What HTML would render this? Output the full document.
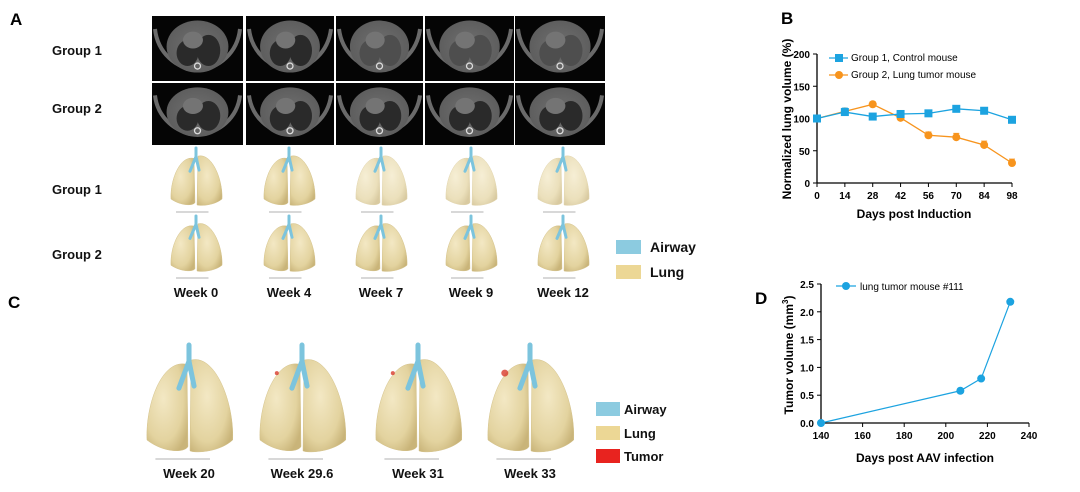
<!DOCTYPE html>
<html><head><meta charset="utf-8"><style>
body{margin:0;background:#fff;}
svg{display:block;font-family:"Liberation Sans",sans-serif;}
.lbl{font-weight:bold;font-size:13px;fill:#111;}
.pl{font-weight:bold;font-size:17px;fill:#000;}
</style></head><body>
<svg id="fig" width="1080" height="492" viewBox="0 0 1080 492">
<defs>
<radialGradient id="lg" cx="40%" cy="40%" r="70%"><stop offset="0" stop-color="#f3e8c4"/><stop offset="0.7" stop-color="#e3d39f"/><stop offset="1" stop-color="#c9b479"/></radialGradient>
<radialGradient id="ctb" cx="50%" cy="50%" r="55%"><stop offset="0" stop-color="#707070"/><stop offset="1" stop-color="#5c5c5c"/></radialGradient>
</defs>
<text class="pl" x="10" y="25">A</text>
<text class="pl" x="781" y="24">B</text>
<text class="pl" x="8" y="308">C</text>
<text class="pl" x="755" y="304">D</text>
<text class="lbl" x="52" y="55">Group 1</text>
<text class="lbl" x="52" y="113">Group 2</text>
<text class="lbl" x="52" y="194">Group 1</text>
<text class="lbl" x="52" y="259">Group 2</text>
<g id="ct"></g>
<g id="lungs"></g>
<g>
<rect x="616" y="240" width="25" height="14" fill="#8ccbe0"/><text class="lbl" x="650" y="252" style="font-size:14px">Airway</text>
<rect x="616" y="265" width="25" height="14" fill="#ecd795"/><text class="lbl" x="650" y="277" style="font-size:14px">Lung</text>
</g>
<g>
<rect x="596" y="402" width="24" height="14" fill="#8ccbe0"/><text class="lbl" x="624" y="414">Airway</text>
<rect x="596" y="426" width="24" height="14" fill="#ecd795"/><text class="lbl" x="624" y="438">Lung</text>
<rect x="596" y="449" width="24" height="14" fill="#e8231f"/><text class="lbl" x="624" y="461">Tumor</text>
</g>
<g id="chartB"></g>
<g id="chartD"></g>
</svg>
<script>
const daysB=[0,14,28,42,56,70,84,98];
const group1=[100,110,103,107,108,115,112,98];
const group2=[100,111,122,101,74,71,59,31];
const group1Err=[0,6,3,2,2,2,2,2];
const group2Err=[0,2,4,3,5,6,6,6];
const yTicksB=[0,50,100,150,200];
const daysD=[140,207,217,231];
const tumorVol=[0,0.58,0.80,2.18];
const xTicksD=[140,160,180,200,220,240];
const yTicksD=[0,0.5,1.0,1.5,2.0,2.5];
const weeksA=["Week 0","Week 4","Week 7","Week 9","Week  12"];
const weeksC=["Week 20","Week 29.6","Week 31","Week 33"];
const NS="http://www.w3.org/2000/svg";
function mk(p,t,a){const e=document.createElementNS(NS,t);for(const k in a)e.setAttribute(k,a[k]);p.appendChild(e);return e;}
const ct=document.getElementById('ct');
const ctX=[152,246,336,425,515],ctW=[91,88,87,89,90];
[[16,65],[83,62]].forEach((r,ri)=>{ctX.forEach((x,i)=>{
 const g=mk(ct,'g',{});
 
 
 const w=ctW[i],h=r[1],cx=x+w/2,cy=r[0]+h*0.47;
 mk(g,'rect',{x:x,y:r[0],width:w,height:h,fill:'#050505'});
 mk(g,'path',{d:`M${x+3} ${r[0]+h*0.2} A${w*0.47} ${h*0.7} 0 0 0 ${x+w-3} ${r[0]+h*0.2}`,fill:'none',stroke:'#6a6a6a','stroke-width':4});
 mk(g,'ellipse',{cx:cx,cy:cy,rx:w*0.34,ry:h*0.4,fill:'url(#ctb)'});
 const dk=(ri==0&&i>=2)?'#4e4e4e':'#2a2a2a';
 mk(g,'ellipse',{cx:cx-w*0.11,cy:cy+h*0.1,rx:w*0.12,ry:h*0.2,fill:dk});
 mk(g,'ellipse',{cx:cx+w*0.12,cy:cy+h*0.06,rx:w*0.13,ry:h*0.24,fill:dk});
 mk(g,'ellipse',{cx:cx-w*0.05,cy:cy-h*0.1,rx:w*0.11,ry:h*0.13,fill:'#747474'});
 mk(g,'circle',{cx:cx,cy:cy+h*0.3,r:3,fill:'none',stroke:'#ddd','stroke-width':1.3});
});});
const L=document.getElementById('lungs');
function lung(cx,top,w,h,tumor,sparse){
 const g=mk(L,'g',{});
 
 
 const lt=top+h*0.12,b=top+h;
 mk(g,'path',{d:`M${cx-2} ${lt+h*0.06} C${cx-w*0.32} ${lt} ${cx-w*0.52} ${b-h*0.45} ${cx-w*0.5} ${b-h*0.12} C${cx-w*0.3} ${b} ${cx-w*0.05} ${b} ${cx-1} ${b-h*0.06} Z`,fill:'url(#lg)',stroke:'#d4c28a','stroke-width':0.5,opacity:sparse?0.7:1});
 mk(g,'path',{d:`M${cx+2} ${lt+h*0.02} C${cx+w*0.32} ${lt-h*0.04} ${cx+w*0.54} ${b-h*0.45} ${cx+w*0.52} ${b-h*0.12} C${cx+w*0.35} ${b} ${cx+w*0.05} ${b} ${cx+1} ${b-h*0.02} Z`,fill:'url(#lg)',stroke:'#d4c28a','stroke-width':0.5,opacity:sparse?0.7:1});
 mk(g,'path',{d:`M${cx} ${top} L${cx} ${top+h*0.15} L${cx-w*0.12} ${top+h*0.4} M${cx} ${top+h*0.15} L${cx+w*0.06} ${top+h*0.38}`,fill:'none',stroke:'#7cc4dd','stroke-width':Math.max(2,w*0.06),'stroke-linecap':'round'});
 if(tumor)mk(g,'circle',{cx:cx-w*0.3,cy:lt+h*0.14,r:tumor,fill:'#d83a2a',opacity:0.8});
 mk(g,'line',{x1:cx-w*0.4,y1:b+6,x2:cx+w*0.25,y2:b+6,stroke:'#999','stroke-width':0.8});
}
const axA=[196,289,381,471,563];
axA.forEach((cx,i)=>{lung(cx,148,50,58,0,i>=2);lung(cx,216,50,56,0,false);
 const t=mk(document.getElementById('fig'),'text',{x:cx,y:297,'text-anchor':'middle',class:'lbl','font-size':12});
 t.textContent=weeksA[i];
 
 
});
const axC=[189,302,418,530];
axC.forEach((cx,i)=>{lung(cx,345,84,108,[0,2,2,3.5][i],false);
 const t=mk(document.getElementById('fig'),'text',{x:cx,y:478,'text-anchor':'middle',class:'lbl'});
 t.textContent=weeksC[i];
 
 
});
(function(){
 const G=document.getElementById('chartB');
 const x=d=>817+(d-0)/98*195, y=v=>183-v/200*129;
 mk(G,'line',{x1:817,y1:y(200),x2:817,y2:183,stroke:'#000','stroke-width':1.3});
 mk(G,'line',{x1:817,y1:183,x2:1012,y2:183,stroke:'#000','stroke-width':1.3});
 yTicksB.forEach(v=>{mk(G,'line',{x1:813,y1:y(v),x2:817,y2:y(v),stroke:'#000'});
  const t=mk(G,'text',{x:810,y:y(v)+4,'text-anchor':'end','font-size':10,'font-weight':'bold'});t.textContent=v;});
 daysB.forEach(d=>{mk(G,'line',{x1:x(d),y1:183,x2:x(d),y2:187,stroke:'#000'});
  const t=mk(G,'text',{x:x(d),y:199,'text-anchor':'middle','font-size':10,'font-weight':'bold'});t.textContent=d;});
 let t=mk(G,'text',{x:914,y:218,'text-anchor':'middle','font-size':12,'font-weight':'bold'});t.textContent='Days post Induction';
 t=mk(G,'text',{x:0,y:0,'text-anchor':'middle','font-size':12,'font-weight':'bold',transform:'translate(791,119) rotate(-90)'});t.textContent='Normalized lung volume (%)';
 function series(vals,err,col,sq,name){
  const p=mk(G,'polyline',{points:vals.map((v,i)=>x(daysB[i])+','+y(v)).join(' '),fill:'none',stroke:col,'stroke-width':1.3});
  
  
  vals.forEach((v,i)=>{
   if(err[i])mk(G,'path',{d:`M${x(daysB[i])} ${y(v)} V${y(v+err[i])} M${x(daysB[i])-3} ${y(v+err[i])} H${x(daysB[i])+3}`,stroke:col,'stroke-width':1});
   const m=sq?mk(G,'rect',{x:x(daysB[i])-4,y:y(v)-4,width:8,height:8,fill:col}):mk(G,'circle',{cx:x(daysB[i]),cy:y(v),r:4,fill:col});
   
   
  });
 }
 series(group2,group2Err,'#f7941d',false,'group2');
 series(group1,group1Err,'#1ca3e0',true,'group1');
 mk(G,'line',{x1:829,y1:58,x2:848,y2:58,stroke:'#1ca3e0','stroke-width':1.3});mk(G,'rect',{x:835,y:54,width:8,height:8,fill:'#1ca3e0'});
 t=mk(G,'text',{x:851,y:61,'font-size':10});t.textContent='Group 1, Control mouse';
 mk(G,'line',{x1:829,y1:75,x2:848,y2:75,stroke:'#f7941d','stroke-width':1.3});mk(G,'circle',{cx:839,cy:75,r:4,fill:'#f7941d'});
 t=mk(G,'text',{x:851,y:78,'font-size':10});t.textContent='Group 2, Lung tumor mouse';
})();
(function(){
 const G=document.getElementById('chartD');
 const x=d=>821+(d-140)/100*208, y=v=>423-v/2.5*139;
 mk(G,'line',{x1:821,y1:y(2.5),x2:821,y2:423,stroke:'#000','stroke-width':1.3});
 mk(G,'line',{x1:821,y1:423,x2:1029,y2:423,stroke:'#000','stroke-width':1.3});
 yTicksD.forEach(v=>{mk(G,'line',{x1:817,y1:y(v),x2:821,y2:y(v),stroke:'#000'});
  const t=mk(G,'text',{x:814,y:y(v)+4,'text-anchor':'end','font-size':10,'font-weight':'bold'});t.textContent=v.toFixed(1);});
 xTicksD.forEach(d=>{mk(G,'line',{x1:x(d),y1:423,x2:x(d),y2:427,stroke:'#000'});
  const t=mk(G,'text',{x:x(d),y:439,'text-anchor':'middle','font-size':10,'font-weight':'bold'});t.textContent=d;});
 let t=mk(G,'text',{x:925,y:462,'text-anchor':'middle','font-size':12,'font-weight':'bold'});t.textContent='Days post AAV infection';
 t=mk(G,'text',{x:0,y:0,'text-anchor':'middle','font-size':12,'font-weight':'bold',transform:'translate(793,355) rotate(-90)'});t.innerHTML='Tumor volume (mm<tspan dy="-5" font-size="8">3</tspan><tspan dy="5">)</tspan>';
 const p=mk(G,'polyline',{points:tumorVol.map((v,i)=>x(daysD[i])+','+y(v)).join(' '),fill:'none',stroke:'#1ca3e0','stroke-width':1.2});
 
 
 tumorVol.forEach((v,i)=>{const c=mk(G,'circle',{cx:x(daysD[i]),cy:y(v),r:4,fill:'#1ca3e0'});
  
  });
 mk(G,'line',{x1:836,y1:286,x2:856,y2:286,stroke:'#1ca3e0','stroke-width':1.2});mk(G,'circle',{cx:846,cy:286,r:4,fill:'#1ca3e0'});
 t=mk(G,'text',{x:860,y:290,'font-size':10});t.textContent='lung tumor mouse #111';
})();
</script>
</body></html>
